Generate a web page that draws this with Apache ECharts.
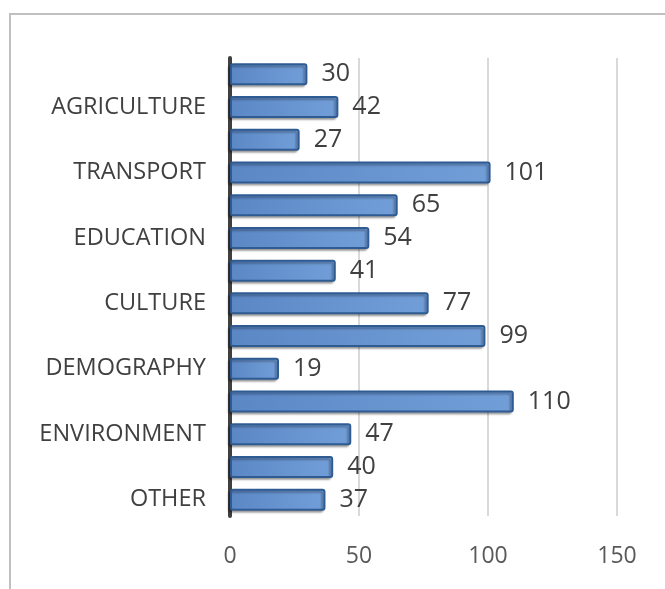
<!DOCTYPE html>
<html>
<head>
<meta charset="utf-8">
<script src="https://cdn.jsdelivr.net/npm/echarts@6/dist/echarts.min.js"></script>
<style>
  html, body { margin: 0; padding: 0; background: #fff; }
  #chart { width: 665px; height: 589px; }
</style>
</head>
<body>
<div id="chart"></div>
<script>
// categories top to bottom, only every other one carries a label
var categories = ['', 'AGRICULTURE', '', 'TRANSPORT', '', 'EDUCATION', '', 'CULTURE',
  '', 'DEMOGRAPHY', '', 'ENVIRONMENT', '', 'OTHER'];
var values = [30, 42, 27, 101, 65, 54, 41, 77, 99, 19, 110, 47, 40, 37];
var xTicks = [0, 50, 100, 150];

var chart = echarts.init(document.getElementById('chart'));

var option = {
  animation: false,
  textStyle: { fontFamily: 'Open Sans' },
  graphic: [
    {
      // chart frame, only left and top edges are visible
      type: 'rect',
      shape: { x: 10, y: 14, width: 700, height: 620 },
      style: { fill: 'none', stroke: '#bfbfbf', lineWidth: 2 }
    }
  ],
  grid: { left: 230, right: 48, top: 58, bottom: 73 },
  xAxis: {
    type: 'value',
    min: xTicks[0],
    max: xTicks[xTicks.length - 1],
    interval: 50,
    axisLine: { show: false },
    axisTick: { show: false },
    axisLabel: { color: '#595959', fontSize: 23, margin: 29 },
    splitLine: { lineStyle: { color: '#d9d9d9', width: 2 } }
  },
  yAxis: {
    type: 'category',
    inverse: true,
    data: categories,
    axisLine: { lineStyle: { color: '#404040', width: 4 } },
    axisTick: { show: false },
    axisLabel: {
      color: '#404040',
      fontSize: 23.5,
      margin: 24,
      interval: 0
    }
  },
  series: [
    {
      type: 'bar',
      data: values,
      barWidth: 22,
      itemStyle: {
        color: new echarts.graphic.LinearGradient(0, 0, 1, 0, [
          { offset: 0, color: '#5b87c5' },
          { offset: 1, color: '#729ed8' }
        ]),
        borderColor: '#2f5b93',
        borderWidth: 2,
        borderRadius: 2,
        shadowColor: 'rgba(0,0,0,0.3)',
        shadowOffsetX: -2,
        shadowOffsetY: 2,
        shadowBlur: 2
      },
      label: {
        show: true,
        position: 'right',
        distance: 14,
        color: '#404040',
        fontSize: 25
      }
    }
  ]
};

chart.setOption(option);
</script>
</body>
</html>
